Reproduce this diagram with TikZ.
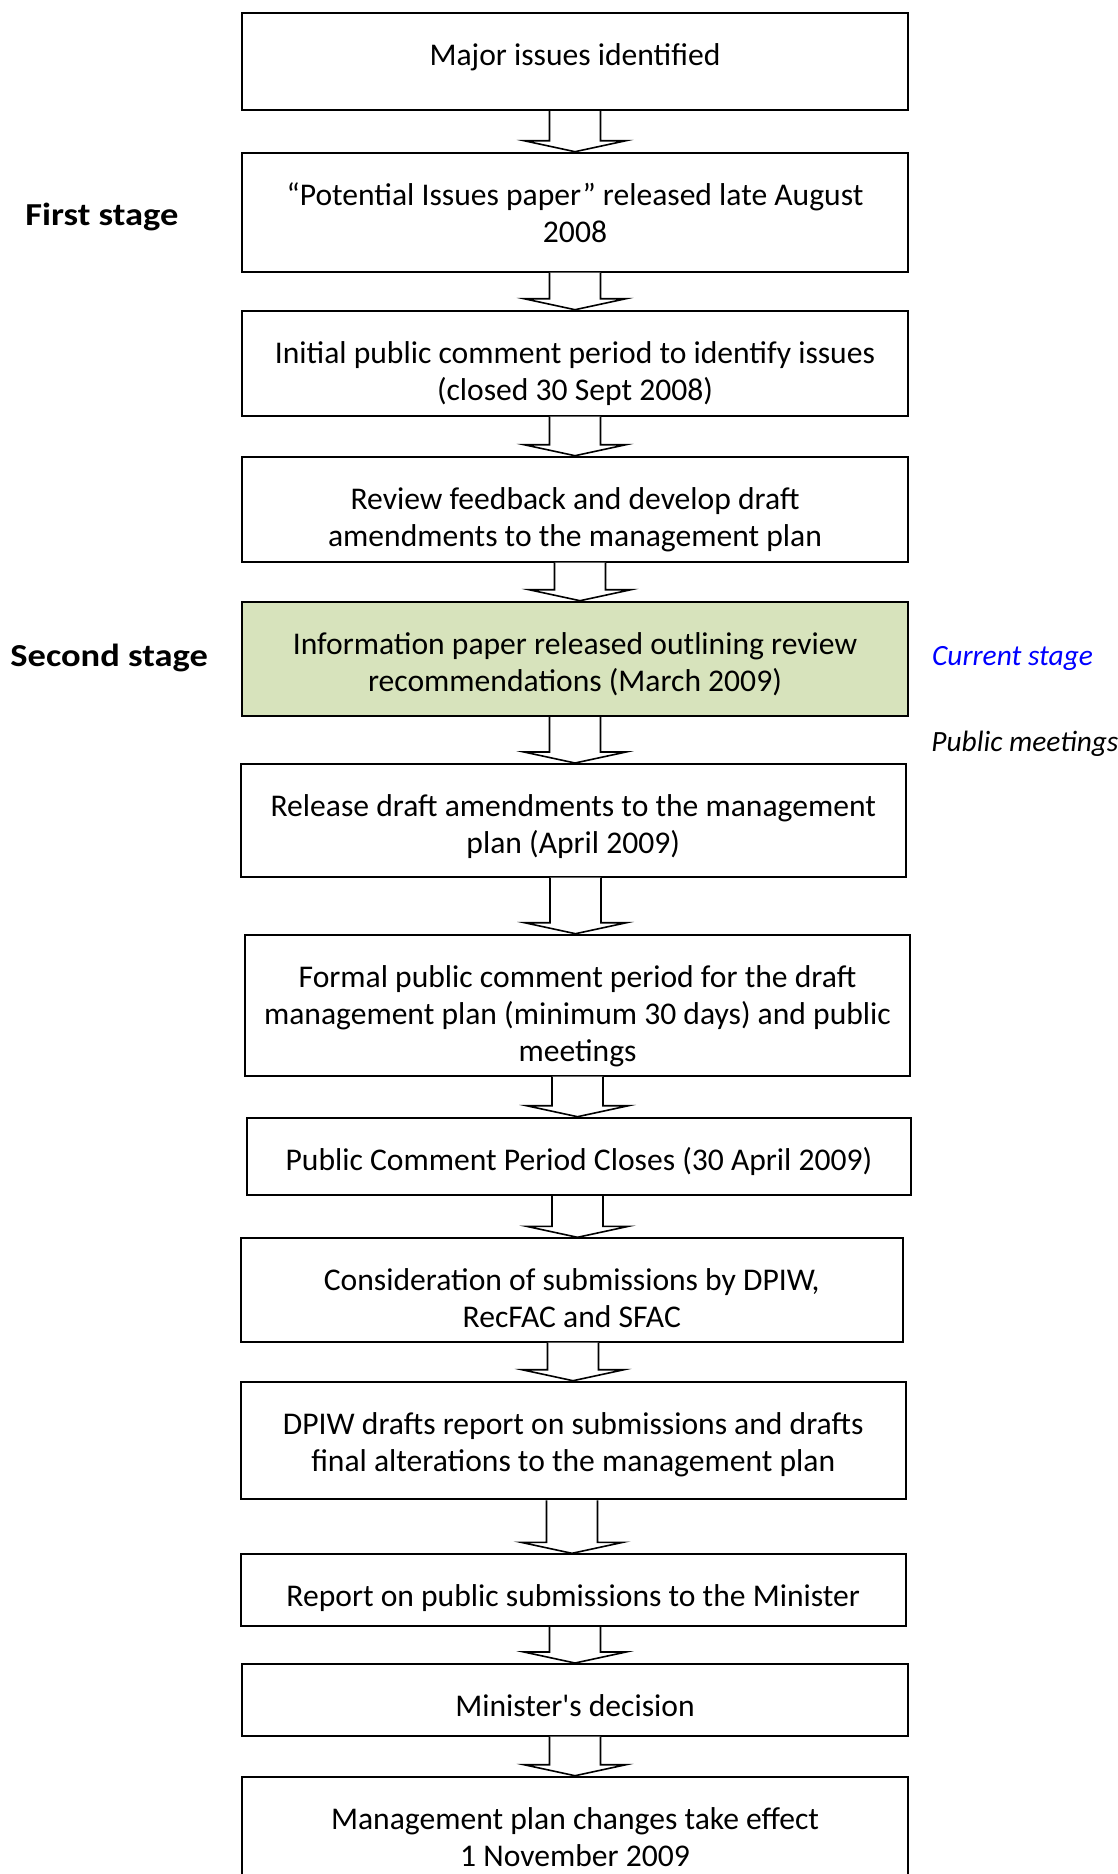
\documentclass[tikz,border=0pt]{standalone}
\usepackage{fontspec}
\setmainfont{Carlito}
\newfontfamily\stagefont{Carlito}[FakeStretch=1.14]
\usetikzlibrary{calc,fit}
\definecolor{stagegreen}{RGB}{215,227,188}
\definecolor{curblue}{RGB}{0,0,255}
\newcommand\fstrut{\rule{0pt}{13pt}}
% block arrow: #1 upper node, #2 lower node, #3 x centre
\newcommand\barr[3]{%
  \draw[barrow] ({#3-25.5},0 |- #1.south)
    -- ($({#3-25.5},0 |- #2.north)+(0,-11)$)
    -- ($({#3-51},0 |- #2.north)+(0,-11)$)
    -- ({#3},0 |- #2.north)
    -- ($({#3+51},0 |- #2.north)+(0,-11)$)
    -- ($({#3+25.5},0 |- #2.north)+(0,-11)$)
    -- ({#3+25.5},0 |- #1.south);}
\tikzset{
  box/.style={draw=black, line width=1pt, inner sep=0pt, rectangle},
  greenbox/.style={box, fill=stagegreen},
  txt/.style={align=center, inner sep=0pt, anchor=north,
    font=\fontsize{15.8pt}{18.5pt}\selectfont},
  stagelbl/.style={inner sep=0pt, anchor=base west,
    font=\stagefont\fontsize{16pt}{19pt}\selectfont\bfseries},
  sidelbl/.style={inner sep=0pt, anchor=base west,
    font=\fontsize{14.7pt}{18pt}\selectfont\itshape},
  barrow/.style={draw=black, fill=white, line width=0.8pt, line join=miter}
}
\begin{document}
\begin{tikzpicture}[x=0.5pt, y=-0.5pt]
\useasboundingbox (0,0) rectangle (1118,1874);
\clip (0,0) rectangle (1118,1874);

\node[box, fit={(242.4,13.3) (907.6,110)}] (b1) {};
\node[box, fit={(242.4,152.7) (907.6,271.7)}] (b2) {};
\node[box, fit={(242.4,310.7) (907.6,415.7)}] (b3) {};
\node[box, fit={(242.4,456.7) (907.6,561.7)}] (b4) {};
\node[greenbox, fit={(242.4,601.7) (907.6,716)}] (b5) {};
\node[box, fit={(241,764) (905.5,876.7)}] (b6) {};
\node[box, fit={(245.3,934.7) (909.7,1075.7)}] (b7) {};
\node[box, fit={(246.7,1117.7) (911.2,1195)}] (b8) {};
\node[box, fit={(241,1238.3) (902.6,1341.7)}] (b9) {};
\node[box, fit={(241,1381.7) (905.5,1499.3)}] (b10) {};
\node[box, fit={(241,1554.3) (905.5,1626)}] (b11) {};
\node[box, fit={(242.4,1664) (907.6,1735.7)}] (b12) {};
\node[box, fit={(242.4,1776.7) (907.6,1900)}] (b13) {};

\node[txt] (t1) at ($(b1.north)+(0,27)$) {\fstrut Major issues identified};
\node[txt] (t2) at ($(b2.north)+(0,27)$) {\fstrut “Potential Issues paper” released late August\\2008};
\node[txt] (t3) at ($(b3.north)+(0,27)$) {\fstrut Initial public comment period to identify issues\\(closed 30 Sept 2008)};
\node[txt] (t4) at ($(b4.north)+(0,27)$) {\fstrut Review feedback and develop draft\\amendments to the management plan};
\node[txt] (t5) at ($(b5.north)+(0,27)$) {\fstrut Information paper released outlining review\\recommendations (March 2009)};
\node[txt] (t6) at ($(b6.north)+(0,27)$) {\fstrut Release draft amendments to the management\\plan (April 2009)};
\node[txt] (t7) at ($(b7.north)+(0,27)$) {\fstrut Formal public comment period for the draft\\management plan (minimum 30 days) and public\\meetings};
\node[txt] (t8) at ($(b8.north)+(0,27)$) {\fstrut Public Comment Period Closes (30 April 2009)};
\node[txt] (t9) at ($(b9.north)+(0,27)$) {\fstrut Consideration of submissions by DPIW,\\RecFAC and SFAC};
\node[txt] (t10) at ($(b10.north)+(0,27)$) {\fstrut DPIW drafts report on submissions and drafts\\final alterations to the management plan};
\node[txt] (t11) at ($(b11.north)+(0,27)$) {\fstrut Report on public submissions to the Minister};
\node[txt] (t12) at ($(b12.north)+(0,27)$) {\fstrut Minister\textquotesingle s decision};
\node[txt] (t13) at ($(b13.north)+(0,27)$) {\fstrut Management plan changes take effect\\1 November 2009};

\barr{b1}{b2}{575}
\barr{b2}{b3}{575}
\barr{b3}{b4}{575}
\barr{b4}{b5}{580}
\barr{b5}{b6}{575}
\barr{b6}{b7}{575.5}
\barr{b7}{b8}{577.5}
\barr{b8}{b9}{577.5}
\barr{b9}{b10}{573}
\barr{b10}{b11}{572}
\barr{b11}{b12}{575}
\barr{b12}{b13}{575}

\node[stagelbl] (s1) at (25,225.7) {First stage};
\node[stagelbl] (s2) at (10,666.7) {Second stage};
\node[sidelbl, text=curblue] (cur) at (931.7,665) {Current stage};
\node[sidelbl] (pm) at (931,751.7) {Public meetings};
\end{tikzpicture}
\end{document}
